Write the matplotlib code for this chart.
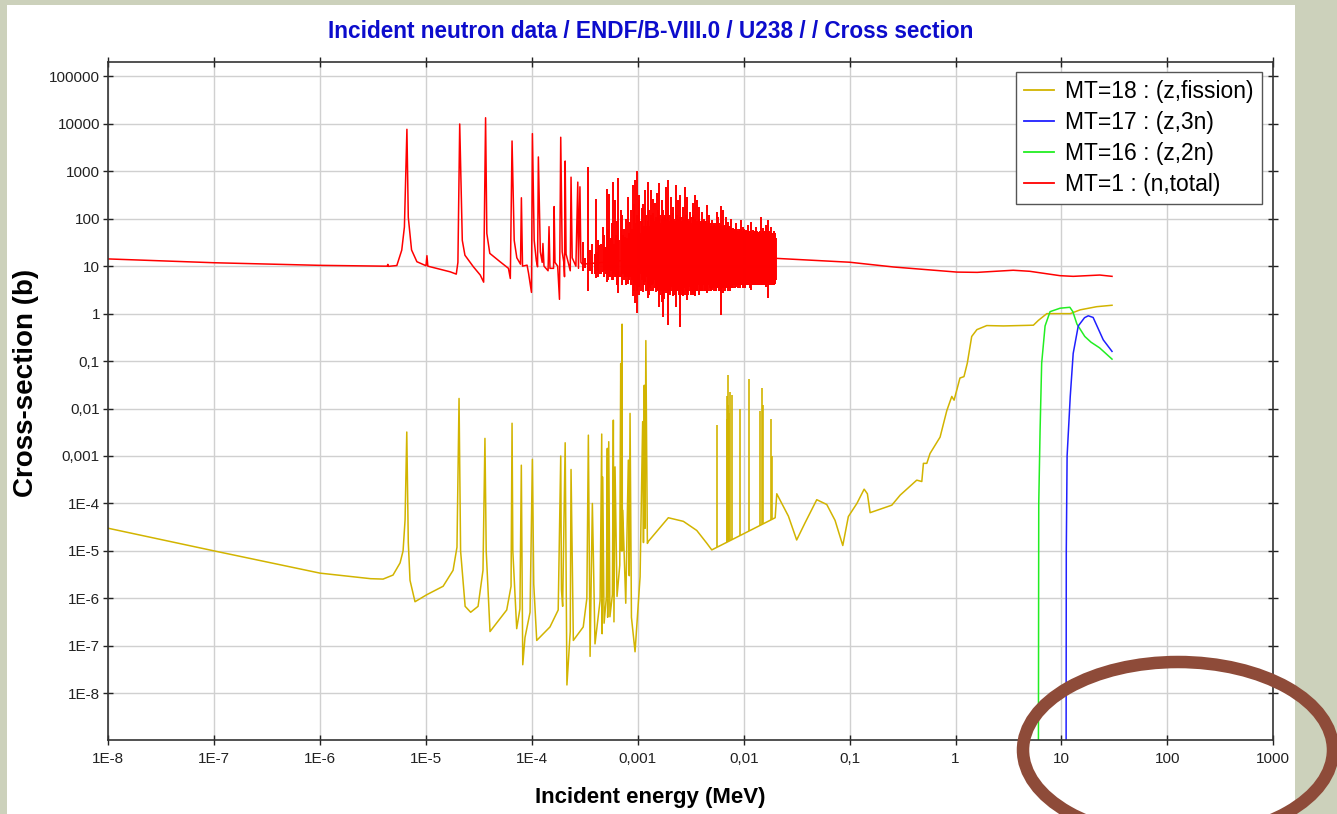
import numpy as np
import matplotlib
matplotlib.use("Agg")
import matplotlib.pyplot as plt
from matplotlib.patches import Ellipse, Rectangle
from matplotlib.lines import Line2D
from matplotlib.ticker import FixedLocator, FixedFormatter, NullLocator

plt.rcParams['font.family'] = ['Liberation Sans', 'DejaVu Sans']

# ---- MT=1 (n,total): explicit points, energy in MeV, cross-section in b
tot_e = [1e-8, 1e-7, 1e-6, 4.0e-6, 4.3e-6, 4.36e-6, 4.42e-6, 5.3e-6, 5.9e-6, 6.25e-6,
         6.6e-6, 6.8e-6, 7.3e-6, 8.2e-6, 1.0e-5, 1.02e-5, 1.04e-5, 1.69e-5, 1.93e-5, 2.0e-5,
         2.08e-5, 2.2e-5, 2.33e-5, 2.8e-5, 3.25e-5, 3.5e-5, 3.65e-5, 3.75e-5, 4.0e-5, 5.0e-5,
         6.0e-5, 6.25e-5, 6.49e-5, 6.8e-5, 7.2e-5, 7.8e-5, 7.95e-5, 8.15e-5, 9.0e-5, 9.3e-5,
         9.9e-5, 1.01e-4, 1.05e-4, 1.1e-4, 1.13e-4, 1.15e-4, 1.2e-4, 1.25e-4, 1.27e-4, 1.3e-4,
         1.42e-4, 1.45e-4, 1.48e-4, 1.6e-4, 1.62e-4, 1.65e-4, 1.75e-4, 1.82e-4, 1.87e-4, 1.93e-4,
         2.0e-4, 2.03e-4, 2.06e-4, 2.1e-4, 2.2e-4, 2.3e-4, 2.34e-4, 2.4e-4, 2.6e-4, 2.71e-4,
         2.75e-4, 2.84e-4, 2.9e-4, 3.0e-4, 1e-3, 3e-3, 1e-2, 0.0202,
         0.1, 0.26, 1.03, 1.6, 3.5, 5.0, 9.7, 12.9, 23.0, 30.0]
tot_s = [14.2, 11.8, 10.4, 10.0, 10.0, 10.9, 9.9, 10.3, 21.8, 67,
         7650, 107, 22, 12.4, 10.2, 16.6, 10.0, 7.6, 6.8, 12,
         9900, 35, 17, 9.7, 6.5, 4.6, 13400, 49, 18.6, 12.4,
         9.0, 5.5, 4340, 35, 15, 11, 276, 10, 10.5, 7.0,
         2.8, 6200, 35, 13, 9.7, 2000, 20, 12, 30, 10,
         8, 68, 9, 9, 180, 12, 10, 2.0, 5200, 20,
         12, 6, 1640, 18, 12, 8, 750, 15, 10, 590,
         9, 470, 12, 11, 14, 16, 16, 14.6,
         12.1, 9.6, 7.5, 7.4, 8.2, 7.8, 6.3, 6.1, 6.5, 6.1]

# ---- MT=1 resolved resonances (energy in keV, peak b, valley b)
res_kev = [0.306, 0.341, 0.372, 0.400, 0.415, 0.433, 0.466, 0.485, 0.508, 0.538,
           0.560, 0.587, 0.609, 0.655, 0.690, 0.720, 0.757, 0.813, 0.844, 0.870,
           0.895, 0.941, 0.976, 1.010, 1.033, 1.060, 1.089, 1.13, 1.170, 1.21,
           1.256, 1.29, 1.324, 1.35, 1.382, 1.42, 1.453, 1.49, 1.528, 1.56,
           1.596, 1.64, 1.681, 1.71, 1.741, 1.79, 1.846, 1.89, 1.941, 1.99,
           2.045, 2.10, 2.164, 2.23, 2.294, 2.35, 2.412, 2.46, 2.501, 2.58,
           2.653, 2.72, 2.790, 2.86, 2.934, 3.02, 3.109, 3.20, 3.297, 3.38,
           3.466, 3.53, 3.597, 3.70, 3.807, 3.91, 4.011, 4.11, 4.217, 4.35,
           4.476, 4.60, 4.734, 4.86, 4.987, 5.13, 5.278, 5.42, 5.557, 5.65,
           5.754, 5.90, 6.062, 6.24, 6.417, 6.60, 6.804, 6.98, 7.155, 7.35,
           7.537, 7.75, 7.978, 8.22, 8.459, 8.67, 8.892, 9.13, 9.372, 9.63,
           9.910, 10.21, 10.51, 10.78, 11.05, 11.35, 11.64, 12.0, 12.32, 12.7,
           13.06, 13.4, 13.73, 14.1, 14.47, 14.9, 15.31, 15.7, 16.13, 16.6,
           17.07, 17.5, 17.99, 18.5, 19.02, 19.40, 19.74, 20.05]
res_hi = [33, 1200, 29, 255, 20, 28, 68, 25, 415, 330,
          40, 600, 250, 710, 150, 45, 42, 290, 87, 40,
          510, 650, 1020, 60, 315, 50, 165, 60, 400, 70,
          600, 60, 400, 50, 255, 60, 210, 70, 340, 50,
          555, 80, 245, 60, 150, 70, 470, 90, 650, 60,
          290, 80, 180, 70, 510, 60, 245, 70, 315, 80,
          180, 70, 470, 60, 290, 80, 140, 60, 210, 90,
          315, 70, 245, 80, 180, 60, 140, 70, 100, 90,
          195, 60, 120, 70, 93, 60, 80, 70, 140, 60,
          110, 70, 185, 60, 150, 60, 110, 60, 86, 55,
          100, 50, 63, 55, 80, 50, 53, 60, 93, 50,
          68, 55, 58, 50, 73, 55, 86, 50, 58, 55,
          68, 50, 53, 55, 110, 50, 63, 55, 73, 55,
          93, 55, 68, 50, 45, 55, 49, 40]
res_lo = [8, 3.0, 7, 5.5, 8, 7, 7.6, 8, 4.7, 6,
          8, 5.1, 6, 2.7, 6, 7, 6, 4.3, 6, 7,
          2.3, 1.65, 1.05, 6, 3.7, 7, 5, 6, 4.7, 6,
          2.1, 5, 4, 6, 4.3, 5, 7, 5, 3.1, 6,
          1.4, 4, 1.8, 5, 0.86, 4, 2.7, 4, 0.57, 5,
          3.7, 4, 2.3, 4, 1.4, 5, 3.7, 3, 0.53, 4,
          2.3, 4, 3.4, 3, 1.93, 4, 3.7, 3, 2.7, 4,
          2.3, 4, 3, 4, 4.3, 3, 3.4, 4, 4.7, 3,
          2.7, 4, 4.3, 3, 3.1, 4, 3.4, 3, 3.7, 4,
          3.5, 3, 0.94, 4, 2.7, 3.5, 3.7, 4, 5.1, 4,
          4.3, 3.5, 5.5, 4, 3.7, 4.5, 5.1, 4, 4.3, 4,
          5.5, 4, 4.7, 4, 4.3, 3.5, 3.1, 4, 6, 4,
          4.7, 4, 5.1, 4, 4.3, 4, 5.5, 4, 3.7, 4,
          2.1, 4, 4.7, 4, 5.1, 4, 4.3, 5]

# ---- MT=1 weaker resonances filling the unresolved-looking band (keV, peak b, valley b)
weak_kev = [0.32, 0.355, 0.39, 0.425, 0.45, 0.475, 0.495, 0.52, 0.55, 0.575,
            0.598, 0.62, 0.64, 0.67, 0.705, 0.74, 0.775, 0.795, 0.83, 0.857,
            0.88, 0.915, 0.958, 0.99, 1.02, 1.075, 1.11, 1.15, 1.19, 1.235,
            1.275, 1.305, 1.34, 1.37, 1.40, 1.44, 1.47, 1.51, 1.545, 1.58,
            1.62, 1.66, 1.695, 1.725, 1.765, 1.815, 1.87, 1.915, 1.965, 2.02,
            2.07, 2.13, 2.2, 2.26, 2.32, 2.385, 2.44, 2.48, 2.54, 2.62,
            2.69, 2.75, 2.82, 2.90, 2.98, 3.06, 3.15, 3.25, 3.34, 3.42,
            3.50, 3.65, 3.75, 3.86, 3.96, 4.06, 4.16, 4.28, 4.42, 4.54,
            4.67, 4.80, 4.92, 5.06, 5.20, 5.35, 5.49, 5.70, 5.83, 5.98,
            6.15, 6.32, 6.51, 6.70, 6.89, 7.06, 7.25, 7.45, 7.64, 7.86,
            8.10, 8.34, 8.57, 8.78, 9.0, 9.25, 9.5, 9.77, 10.06, 10.36,
            10.65, 10.92, 11.2, 11.5, 11.8, 12.15, 12.5, 12.88, 13.23, 13.56,
            13.9, 14.28, 14.68, 15.1, 15.5, 15.9, 16.35, 16.85, 17.28, 17.75,
            18.25, 18.75, 19.2, 19.57, 19.9]
weak_hi = [15, 22, 18, 35, 30, 45, 25, 60, 35, 80,
           30, 45, 90, 35, 120, 60, 100, 40, 50, 150,
           60, 200, 80, 120, 250, 90, 200, 70, 120, 90,
           150, 70, 120, 80, 130, 90, 110, 60, 150, 90,
           120, 80, 100, 90, 110, 120, 100, 150, 90, 120,
           100, 130, 100, 90, 120, 80, 100, 110, 90, 110,
           90, 100, 120, 90, 100, 90, 110, 80, 120, 90,
           100, 90, 100, 80, 90, 80, 90, 80, 90, 80,
           90, 70, 80, 70, 75, 70, 80, 70, 80, 70,
           75, 70, 70, 75, 65, 70, 65, 70, 60, 65,
           60, 60, 60, 55, 60, 55, 60, 55, 60, 55,
           55, 50, 55, 50, 55, 50, 55, 50, 55, 50,
           50, 55, 50, 55, 50, 55, 50, 55, 50, 55,
           50, 50, 50, 45, 45]
weak_lo = [9, 8, 7, 6, 7, 6, 7, 5, 6, 5,
           7, 6, 4, 6, 4, 5, 4, 6, 5, 4,
           5, 3, 4, 3, 2.5, 3, 2.8, 4, 3, 3,
           2.5, 3.5, 3, 4, 3, 3.5, 2.8, 4, 3, 3,
           2.5, 3, 3.2, 3, 2, 3, 3, 2, 3, 2.5,
           3, 2.5, 3, 2.5, 3, 3, 2.5, 2, 3, 2.5,
           3, 2.5, 2.5, 3, 2.5, 3, 2.5, 3, 2.5, 3,
           2.5, 3, 2.5, 3, 3, 3, 3, 3, 3, 3,
           3, 3.5, 3, 3.5, 3, 3.5, 3, 3.5, 3, 3.5,
           3, 3.5, 3.5, 3, 3.5, 3, 3.5, 3, 3.5, 3.5,
           4, 3.5, 4, 3.5, 4, 3.5, 4, 3.5, 4, 3.5,
           4, 4, 4, 4, 4, 4, 4, 4, 4, 4,
           4, 4, 4, 4, 4, 4, 4, 4, 4, 4,
           4, 4, 4, 4.5, 4.5]

# ---- MT=18 fission: explicit points (MeV, b)
fis_e = [1e-8, 1e-7, 1e-6, 3.0e-6, 3.93e-6, 4.88e-6, 5.69e-6, 6.07e-6, 6.34e-6, 6.58e-6,
         6.8e-6, 7.06e-6, 7.87e-6, 1.02e-5, 1.45e-5, 1.80e-5, 1.96e-5, 2.05e-5, 2.12e-5, 2.34e-5,
         2.64e-5, 3.1e-5, 3.45e-5, 3.6e-5, 3.7e-5, 4.02e-5, 5.78e-5, 6.35e-5, 6.49e-5, 6.6e-5,
         7.18e-5, 7.7e-5, 7.94e-5, 8.19e-5, 8.6e-5, 9.6e-5, 1.01e-4, 1.04e-4, 1.11e-4, 1.48e-4,
         1.77e-4, 1.87e-4, 1.9e-4, 1.95e-4, 2.06e-4, 2.14e-4, 2.3e-4, 2.34e-4, 2.46e-4, 3.05e-4,
         3.30e-4, 3.41e-4, 3.54e-4, 3.72e-4, 3.94e-4, 4.40e-4, 4.56e-4, 4.60e-4, 4.66e-4, 4.80e-4,
         5.05e-4, 5.15e-4, 5.19e-4, 5.31e-4, 5.45e-4, 5.75e-4, 5.87e-4, 5.95e-4, 6.09e-4, 6.36e-4,
         6.75e-4, 6.89e-4, 6.98e-4, 7.10e-4, 7.14e-4, 7.20e-4, 7.69e-4, 8.13e-4, 8.3e-4, 8.44e-4,
         8.7e-4, 9.41e-4, 1.05e-3, 1.11e-3, 1.13e-3, 1.15e-3, 1.17e-3, 1.19e-3, 1.23e-3, 1.26e-3,
         1.94e-3, 2.69e-3, 3.6e-3, 4.48e-3, 4.99e-3, 1.98e-2, 2.05e-2, 2.64e-2, 3.16e-2, 3.79e-2,
         4.89e-2, 6.08e-2, 7.28e-2, 8.61e-2, 9.72e-2, 0.117, 0.137, 0.147, 0.156, 0.250,
         0.30, 0.43, 0.48, 0.497, 0.535, 0.574, 0.714, 0.826, 0.921, 0.968,
         1.10, 1.20, 1.29, 1.42, 1.59, 1.97, 2.83, 5.43, 6.05, 7.27,
         12.1, 15.0, 21.5, 30.0]
fis_s = [3.0e-5, 1.0e-5, 3.4e-6, 2.6e-6, 2.55e-6, 3.1e-6, 5.6e-6, 1.0e-5, 4.5e-5, 3.2e-3,
         1.5e-5, 2.4e-6, 8.5e-7, 1.2e-6, 1.8e-6, 3.9e-6, 1.2e-5, 0.0163, 1e-5, 6.8e-7,
         5.1e-7, 6.8e-7, 3.9e-6, 2.35e-3, 1e-5, 2e-7, 5.7e-7, 1.8e-6, 4.9e-3, 1e-5,
         2.3e-7, 6e-7, 6.4e-4, 4e-8, 1.5e-7, 5.1e-7, 8.5e-4, 2e-6, 1.3e-7, 2.5e-7,
         5.7e-7, 1.0e-3, 1.5e-6, 6.8e-7, 1.9e-3, 1.5e-8, 2e-7, 5.2e-4, 1.3e-7, 2.5e-7,
         1e-6, 2.75e-3, 6e-8, 1.0e-4, 1.1e-7, 9e-7, 2.9e-3, 1.8e-7, 3.6e-4, 3e-7,
         1.1e-6, 1.45e-3, 4e-7, 2.0e-3, 4.1e-7, 1.2e-6, 5.7e-3, 3.2e-7, 5.9e-4, 1.1e-6,
         5e-6, 0.089, 1e-5, 0.60, 1e-5, 7.2e-5, 7.9e-7, 8.2e-4, 3e-6, 7.9e-3,
         4e-7, 7.5e-8, 2.85e-6, 5.3e-3, 1.5e-5, 0.031, 3e-5, 0.27, 1.44e-5, 1.6e-5,
         5e-5, 4.2e-5, 2.7e-5, 1.45e-5, 1.05e-5, 5e-5, 1.6e-4, 5.4e-5, 1.7e-5, 3.9e-5,
         1.2e-4, 9.5e-5, 4.4e-5, 1.3e-5, 5.3e-5, 1e-4, 2.0e-4, 1.6e-4, 6.4e-5, 9.2e-5,
         1.5e-4, 3.1e-4, 2.9e-4, 7e-4, 7e-4, 1.13e-3, 2.5e-3, 9e-3, 0.018, 0.015,
         0.044, 0.047, 0.09, 0.33, 0.46, 0.56, 0.55, 0.57, 0.72, 1.0,
         1.0, 1.2, 1.4, 1.5]

# ---- MT=18 narrow resonances above 5 keV (keV, peak b, base b)
fis_spk_kev = [5.63, 6.91, 6.98, 7.05, 7.16, 7.30, 7.43, 7.71, 9.23, 11.3,
               14.26, 14.9, 15.3, 18.0, 18.4]
fis_spk_hi = [4.6e-3, 0.018, 0.006, 0.012, 0.05, 0.008, 0.022, 0.019, 0.0096, 0.041,
              0.009, 0.027, 0.012, 0.0059, 1e-3]
fis_spk_lo = [1.2e-5, 1.53e-5, 1.55e-5, 1.57e-5, 1.6e-5, 1.63e-5, 1.66e-5, 1.7e-5, 2.1e-5, 2.66e-5,
              3.5e-5, 3.7e-5, 3.8e-5, 4.5e-5, 4.6e-5]

# ---- MT=16 (z,2n)
n2n_e = [6.05, 6.1, 6.28, 6.5, 7.0, 7.8, 9.7, 12.0, 12.8, 14.0, 16.6, 19.0, 22.9, 30.0]
n2n_s = [1e-10, 1e-4, 3.5e-3, 0.09, 0.55, 1.1, 1.3, 1.36, 1.1, 0.6, 0.33, 0.25, 0.19, 0.11]

# ---- MT=17 (z,3n)
n3n_e = [11.05, 11.1, 11.3, 12.1, 12.9, 14.4, 16.5, 17.9, 19.9, 24.8, 30.0]
n3n_s = [1e-10, 1e-5, 1e-3, 0.018, 0.145, 0.55, 0.82, 0.9, 0.83, 0.28, 0.16]

x_ticks = [1e-8, 1e-7, 1e-6, 1e-5, 1e-4, 1e-3, 1e-2, 1e-1, 1, 10, 100, 1000]
x_labels = ['1E-8', '1E-7', '1E-6', '1E-5', '1E-4', '0,001', '0,01', '0,1', '1', '10', '100', '1000']
y_ticks = [1e-8, 1e-7, 1e-6, 1e-5, 1e-4, 1e-3, 1e-2, 1e-1, 1, 10, 100, 1000, 1e4, 1e5]
y_labels = ['1E-8', '1E-7', '1E-6', '1E-5', '1E-4', '0,001', '0,01', '0,1', '1', '10',
            '100', '1000', '10000', '100000']

W, H = 1337, 814
fig = plt.figure(figsize=(W / 100, H / 100), dpi=100)
fig.patch.set_facecolor('#ccd1bb')
fig.add_artist(Rectangle((7 / W, 0), (1295 - 7) / W, 1 - 5 / H, transform=fig.transFigure,
                         facecolor='white', edgecolor='none', zorder=-5))

ax = fig.add_axes([108.3 / W, 1 - 740 / H, 1165 / W, 678.3 / H])
ax.set_xscale('log')
ax.set_yscale('log')

c_red, c_yel, c_grn, c_blu = '#ff0000', '#d2b400', '#22ee22', '#2020ff'

ax.plot(tot_e, tot_s, color=c_red, lw=1.1)
ax.vlines(np.array(weak_kev) / 1000, weak_lo, weak_hi, color=c_red, lw=1.4)
ax.vlines(np.array(res_kev) / 1000, res_lo, res_hi, color=c_red, lw=1.4)
ax.plot(fis_e, fis_s, color=c_yel, lw=1.1)
ax.vlines(np.array(fis_spk_kev) / 1000, fis_spk_lo, fis_spk_hi, color=c_yel, lw=1.2)
ax.plot(n2n_e, n2n_s, color=c_grn, lw=1.1)
ax.plot(n3n_e, n3n_s, color=c_blu, lw=1.1)

ax.set_xlim(1e-8, 1000)
ax.set_ylim(10 ** -8.984, 10 ** 5.308)
ax.xaxis.set_major_locator(FixedLocator(x_ticks))
ax.xaxis.set_major_formatter(FixedFormatter(x_labels))
ax.yaxis.set_major_locator(FixedLocator(y_ticks))
ax.yaxis.set_major_formatter(FixedFormatter(y_labels))
ax.xaxis.set_minor_locator(NullLocator())
ax.yaxis.set_minor_locator(NullLocator())
ax.tick_params(direction='inout', length=7, width=1, labelsize=11, colors='#222222',
               top=True, right=True)
ax.tick_params(axis='x', pad=5)
ax.tick_params(axis='y', pad=2.5)
ax.grid(True, color='#d0d0d0', lw=1.0)
ax.set_axisbelow(True)
for s in ax.spines.values():
    s.set_color('#333333')
    s.set_linewidth(1.2)

handles = [Line2D([], [], color=c_yel, lw=1.3), Line2D([], [], color=c_blu, lw=1.3),
           Line2D([], [], color=c_grn, lw=1.3), Line2D([], [], color=c_red, lw=1.3)]
names = ['MT=18 : (z,fission)', 'MT=17 : (z,3n)', 'MT=16 : (z,2n)', 'MT=1 : (n,total)']
leg = ax.legend(handles, names, loc='upper right',
                bbox_to_anchor=((1262 - 108.3) / 1165, (740 - 72) / 678.3),
                borderaxespad=0, fontsize=16.5, fancybox=False, framealpha=1,
                edgecolor='#555555', handlelength=1.35, handletextpad=0.48,
                labelspacing=0.35, borderpad=0.35)
leg.get_frame().set_linewidth(1.0)

fig.text(651 / W, 1 - 31 / H, 'Incident neutron data / ENDF/B-VIII.0 / U238 / / Cross section',
         ha='center', va='center', fontsize=16.3, fontweight='bold', color='#0c0ccc')
fig.text(650 / W, 1 - 797 / H, 'Incident energy (MeV)', ha='center', va='center',
         fontsize=16, fontweight='bold')
fig.text(26 / W, 1 - 383 / H, 'Cross-section (b)', ha='center', va='center',
         rotation=90, fontsize=20, fontweight='bold')

fig.add_artist(Ellipse((1178 / W, 1 - 750 / H), 310 / W, 176 / H, transform=fig.transFigure,
                       fill=False, edgecolor='#8e4b39', lw=9, zorder=10, clip_on=False))

fig.savefig('out.png', dpi=100)
